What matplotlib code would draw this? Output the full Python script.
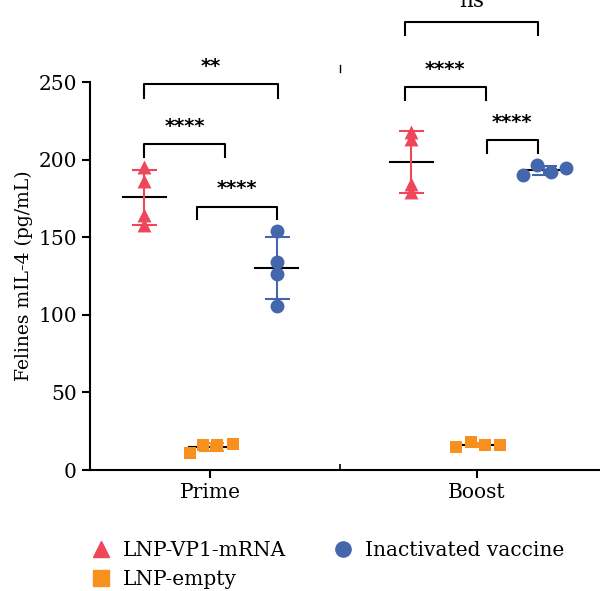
# Felines mIL-4 dot plot, Prime vs Boost
import matplotlib
matplotlib.use("Agg")
import matplotlib.pyplot as plt
from matplotlib.lines import Line2D
import numpy as np

plt.rcParams['font.family'] = 'DejaVu Serif'

groups = ["Prime", "Boost"]
series = ["LNP-VP1-mRNA", "LNP-empty", "Inactivated vaccine"]
colors = ["#EF4759", "#F7901E", "#4466AC"]
markers = ["^", "s", "o"]
offsets = [-0.245, 0.0, 0.25]

# values per group [Prime, Boost]
vp1 = [[195, 186, 164, 158], [218, 213, 184, 179]]
empty = [[11, 16, 16, 17], [15, 18, 16, 16]]
inact = [[154, 134, 126, 106], [190, 196.5, 192, 194.5]]
values = [vp1, empty, inact]

# horizontal scatter of the dots
jitter = [
    [[0, 0, 0, 0], [0, 0, 0, 0]],
    [[-0.075, -0.026, 0.026, 0.086], [-0.079, -0.022, 0.03, 0.086]],
    [[0, 0, 0, 0], [-0.079, -0.026, 0.026, 0.082]],
]

# significance brackets: group, x1, x2, top, leg bottom, label
brackets = [
    (0, -0.245, 0.255, 248.5, 240, "**"),
    (0, -0.245, 0.055, 210, 201.5, "****"),
    (0, -0.05, 0.25, 169.7, 161.7, "****"),
    (1, -0.27, 0.228, 289, 280.3, "ns"),
    (1, -0.27, 0.034, 246.6, 238.4, "****"),
    (1, 0.037, 0.228, 212.6, 204, "****"),
]

fontsize = 14.5
fig = plt.figure(figsize=(6, 5.91), dpi=100)
ax = fig.add_axes([0.15, 0.2047, 0.85, 0.6565])

for s in range(3):
    for g in range(2):
        y = np.array(values[s][g])
        x = g + offsets[s] + np.array(jitter[s][g])
        c = g + offsets[s] + np.mean(jitter[s][g])
        m, sd = y.mean(), y.std(ddof=1)
        ax.plot([c - 0.08, c + 0.08], [m, m], color='black', lw=1.5, zorder=2)
        ax.scatter(x, y, marker=markers[s], color=colors[s], s=100 if s != 1 else 85,
                   zorder=3, clip_on=False, linewidths=0)
        ax.errorbar([c], [m], yerr=[sd], fmt='none', ecolor=colors[s], elinewidth=1.5,
                    capsize=9, capthick=1.5, zorder=4)

for g, x1, x2, top, bot, lab in brackets:
    ax.plot([g + x1, g + x1, g + x2, g + x2], [bot, top, top, bot], color='black',
            lw=1.5, clip_on=False)
    if lab == "ns":
        ax.text(g + (x1 + x2) / 2, top + 6, lab, ha='center', va='bottom',
                fontsize=fontsize + 1)
    else:
        ax.text(g + (x1 + x2) / 2, top + 5.5, lab, ha='center', va='bottom',
                fontsize=14, family='DejaVu Sans', fontweight='bold')

# small separator marks between the groups
sep = 0.487
ax.plot([sep, sep], [256.5, 261], color='black', lw=1, clip_on=False)

ax.set_xlim(-0.449, 1.461)
ax.set_ylim(0, 250)
ax.set_yticks([0, 50, 100, 150, 200, 250])
ax.set_xticks([0, 1])
ax.set_xticklabels(groups)
ax.set_xticks([sep], minor=True)
ax.tick_params(axis='both', which='major', labelsize=fontsize, width=1.5, length=6)
ax.tick_params(axis='x', which='minor', direction='in', length=4, width=1.2)
ax.spines['top'].set_visible(False)
ax.spines['right'].set_visible(False)
ax.spines['left'].set_linewidth(1.5)
ax.spines['bottom'].set_linewidth(1.5)
ax.set_ylabel('Felines mIL-4 (pg/mL)', fontsize=13.5)

handles = [Line2D([], [], marker=markers[s], color=colors[s], ls='none', markersize=11)
           for s in range(3)]
fig.legend(handles, series, ncol=2, loc='upper left', bbox_to_anchor=(0.135, 0.1016),
           frameon=False, fontsize=14.5, handlelength=1, handletextpad=0.6,
           columnspacing=2.3, labelspacing=0.5, borderpad=0)

plt.savefig('out.png')
